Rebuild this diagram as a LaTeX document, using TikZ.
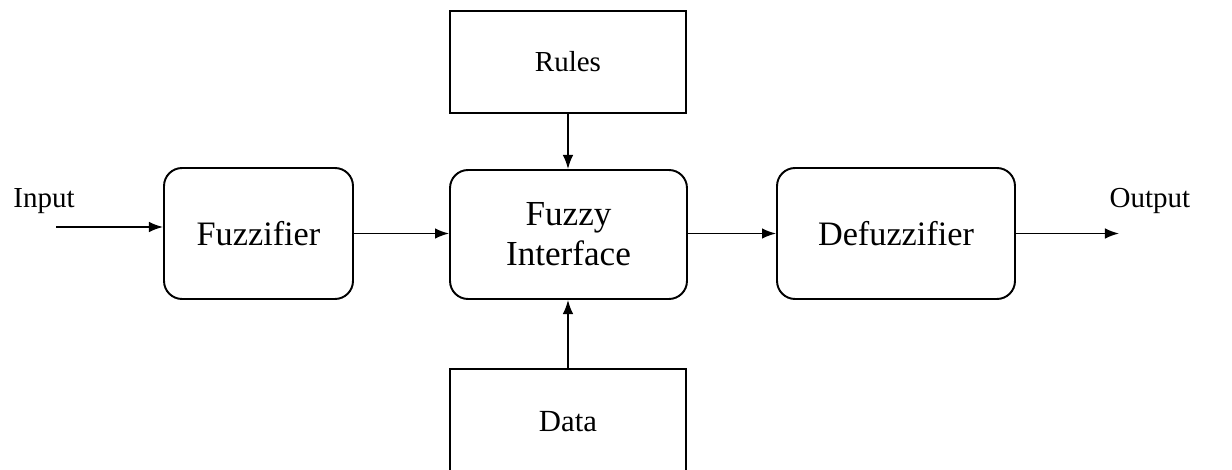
\documentclass[tikz,border=0pt]{standalone}
\usepackage{fontspec}
\setmainfont{Liberation Serif}
\usetikzlibrary{arrows.meta,calc}

\tikzset{
  block/.style={draw, line width=1.1pt, inner sep=0pt, align=center},
  rblock/.style={block, rounded corners=0.36cm},
  flow/.style={draw, line width=0.9pt, -{Latex[length=8pt,width=6pt]}},
  boxtext/.style={font=\fontsize{19.5}{22.8}\selectfont},
  labeltext/.style={font=\fontsize{16.5}{20}\selectfont},
}

\begin{document}
\begin{tikzpicture}[x=0.02cm,y=-0.02cm]
  \useasboundingbox (0,0) rectangle (1232,470);
  \clip (0,0) rectangle (1232,470);

  % processing chain
  \node[rblock, boxtext, minimum width=3.78cm, minimum height=2.62cm] (fuzz) at (258.5,233.5) {Fuzzifier};
  \node[rblock, boxtext, minimum width=4.74cm, minimum height=2.58cm, font=\fontsize{20}{22.8}\selectfont] (inf) at (568.5,234.5) {Fuzzy\\Interface};
  \node[rblock, boxtext, minimum width=4.76cm, minimum height=2.62cm] (defuzz) at (896,233.5) {Defuzzifier};

  % knowledge sources
  \node[block, labeltext, minimum width=4.72cm, minimum height=2.04cm] (rules) at (568,62) {Rules};
  \node[block, boxtext, font=\fontsize{17.5}{20}\selectfont, minimum width=4.72cm, minimum height=2.1cm] (data) at (568,421.5) {Data};

  % external signals
  \node[labeltext] (inlab) at (44,201) {Input};
  \node[labeltext] (outlab) at (1150,201) {Output};
  \coordinate (in) at (56,227);
  \coordinate (out) at (1119,233.5);

  % connectors
  \draw[flow] (in) -- (in -| fuzz.west);
  \draw[flow] (fuzz.east) -- (inf.west |- fuzz.east);
  \draw[flow] (inf.east |- fuzz.east) -- (defuzz.west);
  \draw[flow] (defuzz.east) -- (out);
  \draw[flow] (rules.south) -- (rules.south |- inf.north);
  \draw[flow] (data.north) -- (data.north |- inf.south);
\end{tikzpicture}
\end{document}
